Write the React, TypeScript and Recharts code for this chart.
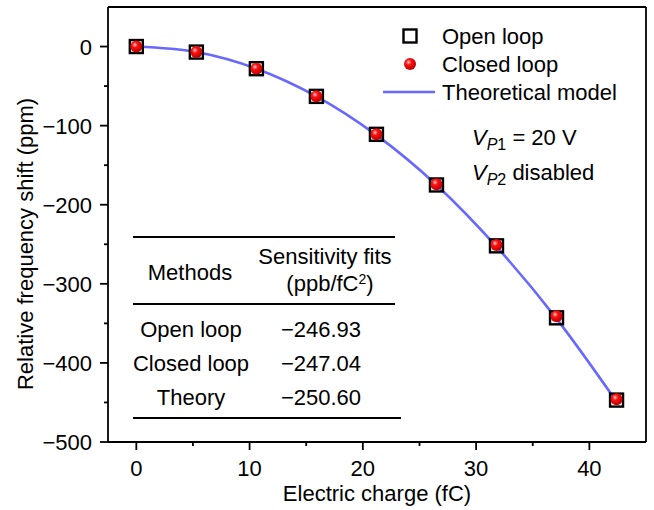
import { ComposedChart, XAxis, YAxis, Scatter, Line, ReferenceLine } from 'recharts';

const charge = [0, 5.3, 10.6, 15.9, 21.2, 26.5, 31.8, 37.1, 42.4];
const openLoop = [0, -7, -28, -63, -111, -175, -252, -343, -447];
const closedLoop = [0, -7, -28, -63, -111, -174, -251, -341, -446];
const theoretical = [0, -7, -28, -63, -112, -175, -253, -344, -449];

const xTicks = [0, 5, 10, 15, 20, 25, 30, 35, 40];
const yTicks = [-500, -450, -400, -350, -300, -250, -200, -150, -100, -50, 0];

const tableRows = [
  { method: 'Open loop', fit: '\u2212246.93' },
  { method: 'Closed loop', fit: '\u2212247.04' },
  { method: 'Theory', fit: '\u2212250.60' },
];

const data = charge.map((c, i) => ({
  charge: c,
  open: openLoop[i],
  closed: closedLoop[i],
  theory: theoretical[i],
}));

const FONT = '"Liberation Sans", Arial, sans-serif';
const BLUE = '#4d4dff';
const FS = 22;

const XTick = (props: any) => {
  const { x, y, payload } = props;
  const major = payload.value % 10 === 0;
  return (
    <g>
      <line x1={x} x2={x} y1={y} y2={y + (major ? 8 : 4)} stroke="#000" strokeWidth={1.8} />
      {major && (
        <text x={x} y={y + 34} textAnchor="middle" fontSize={FS} fontFamily={FONT} fill="#000">
          {payload.value}
        </text>
      )}
    </g>
  );
};

const YTick = (props: any) => {
  const { x, y, payload } = props;
  const major = payload.value % 100 === 0;
  const label = payload.value < 0 ? '\u2212' + Math.abs(payload.value) : String(payload.value);
  return (
    <g>
      <line x1={x} x2={x - (major ? 8 : 4)} y1={y} y2={y} stroke="#000" strokeWidth={1.8} />
      {major && (
        <text x={x - 16} y={y + 8} textAnchor="end" fontSize={FS} fontFamily={FONT} fill="#000">
          {label}
        </text>
      )}
    </g>
  );
};

const OpenSquare = (props: any) => {
  const { cx, cy } = props;
  return <rect x={cx - 6.5} y={cy - 6.5} width={13} height={13} fill="none" stroke="#000" strokeWidth={2.4} />;
};

const RedBall = (props: any) => {
  const { cx, cy } = props;
  return <circle cx={cx} cy={cy} r={6} fill="url(#ballGrad)" />;
};

export default function App() {
  return (
    <div style={{ position: 'absolute', left: 0, top: 0, width: 654, height: 510, background: '#fff' }}>
      <ComposedChart width={654} height={510} data={data} margin={{ top: 7, right: 8, bottom: 0, left: 0 }}>
        <defs>
          <radialGradient id="ballGrad" cx="38%" cy="35%" r="65%">
            <stop offset="0%" stopColor="#ffd0d0" />
            <stop offset="35%" stopColor="#ff1010" />
            <stop offset="100%" stopColor="#b80000" />
          </radialGradient>
        </defs>
        <XAxis
          type="number"
          dataKey="charge"
          domain={[-2.5, 45]}
          ticks={xTicks}
          interval={0}
          allowDataOverflow
          height={68}
          tickSize={0}
          tickMargin={0}
          tickLine={false}
          axisLine={{ stroke: '#000', strokeWidth: 1.8 }}
          tick={<XTick />}
        />
        <YAxis
          type="number"
          domain={[-500, 50]}
          ticks={yTicks}
          interval={0}
          allowDataOverflow
          width={108}
          tickSize={0}
          tickMargin={0}
          tickLine={false}
          axisLine={{ stroke: '#000', strokeWidth: 1.8 }}
          tick={<YTick />}
        />
        <ReferenceLine y={50} stroke="#000" strokeWidth={1.8} />
        <ReferenceLine x={45} stroke="#000" strokeWidth={1.8} />
        <Scatter dataKey="open" shape={<OpenSquare />} isAnimationActive={false} />
        <Scatter dataKey="closed" shape={<RedBall />} isAnimationActive={false} />
        <Line
          type="monotone"
          dataKey="theory"
          stroke={BLUE}
          strokeOpacity={0.85}
          strokeWidth={2.6}
          dot={false}
          activeDot={false}
          isAnimationActive={false}
        />
      </ComposedChart>

      <svg
        width={654}
        height={510}
        style={{ position: 'absolute', left: 0, top: 0, pointerEvents: 'none' }}
        fontFamily={FONT}
        fontSize={FS}
        fill="#000"
      >
        <defs>
          <radialGradient id="ballGrad2" cx="38%" cy="35%" r="65%">
            <stop offset="0%" stopColor="#ffd0d0" />
            <stop offset="35%" stopColor="#ff1010" />
            <stop offset="100%" stopColor="#b80000" />
          </radialGradient>
        </defs>
        {/* axis titles */}
        <text x={377} y={501} textAnchor="middle">Electric charge (fC)</text>
        <text
          x={25}
          y={244}
          textAnchor="middle"
          dominantBaseline="central"
          transform="rotate(-90 25 244)"
        >
          Relative frequency shift (ppm)
        </text>

        {/* legend */}
        <rect x={403.5} y={29.5} width={13} height={13} fill="none" stroke="#000" strokeWidth={2.4} />
        <text x={442} y={44}>Open loop</text>
        <circle cx={410} cy={64} r={6} fill="url(#ballGrad2)" />
        <text x={442} y={72}>Closed loop</text>
        <line x1={383} x2={435} y1={92} y2={92} stroke={BLUE} strokeOpacity={0.85} strokeWidth={2.6} />
        <text x={442} y={100}>Theoretical model</text>

        {/* conditions */}
        <text x={472} y={145}>
          <tspan fontStyle="italic">V</tspan>
          <tspan fontStyle="italic" fontSize={16} dy={5}>P</tspan>
          <tspan fontSize={16}>1</tspan>
          <tspan dy={-5}> = 20 V</tspan>
        </text>
        <text x={472} y={180}>
          <tspan fontStyle="italic">V</tspan>
          <tspan fontStyle="italic" fontSize={16} dy={5}>P</tspan>
          <tspan fontSize={16}>2</tspan>
          <tspan dy={-5}> disabled</tspan>
        </text>

        {/* table */}
        <line x1={133} x2={395} y1={237} y2={237} stroke="#000" strokeWidth={1.8} />
        <line x1={133} x2={395} y1={304} y2={304} stroke="#000" strokeWidth={1.8} />
        <line x1={133} x2={401} y1={418} y2={418} stroke="#000" strokeWidth={1.8} />
        <text x={190} y={280} textAnchor="middle">Methods</text>
        <text x={325} y={264} textAnchor="middle">Sensitivity fits</text>
        <text x={330} y={291} textAnchor="middle">
          (ppb/fC<tspan fontSize={14} dy={-7}>2</tspan>
          <tspan dy={7}>)</tspan>
        </text>
        {tableRows.map((r, i) => (
          <g key={r.method}>
            <text x={191} y={337 + i * 34} textAnchor="middle">{r.method}</text>
            <text x={321} y={337 + i * 34} textAnchor="middle">{r.fit}</text>
          </g>
        ))}
      </svg>
    </div>
  );
}
